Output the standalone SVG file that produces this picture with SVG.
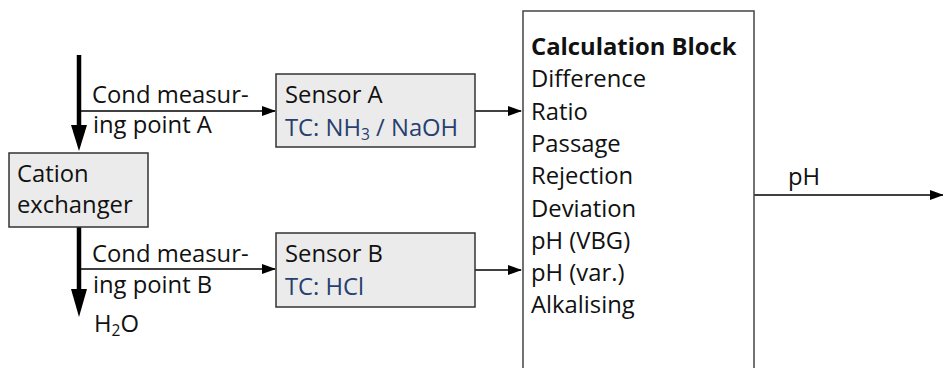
<svg xmlns="http://www.w3.org/2000/svg" width="943" height="368" viewBox="0 0 943 368">
<style>
text{font-family:"Open Sans","Noto Sans",sans-serif;font-size:23.8px;fill:#111}
.b{font-weight:bold}
.tc{fill:#27406f}
.box{fill:#ebebeb;stroke:#333;stroke-width:1.5}
.thin{stroke:#000;stroke-width:1.5;fill:none}
.thick{stroke:#000;stroke-width:4.5;fill:none}
</style>
<defs>
<marker id="ah" markerUnits="userSpaceOnUse" markerWidth="14" markerHeight="10" refX="13" refY="5" orient="auto"><path d="M0,0 L14,5 L0,10 Z" fill="#000"/></marker>
</defs>
<g id="connectors">
<line class="thick" x1="79" y1="55" x2="79" y2="128"/>
<path d="M71,125 L87,125 L79,151 Z" fill="#000"/>
<line class="thin" x1="79" y1="111" x2="275" y2="111" marker-end="url(#ah)"/>
<line class="thick" x1="79" y1="227" x2="79" y2="292"/>
<path d="M71,289 L87,289 L79,317 Z" fill="#000"/>
<line class="thin" x1="79" y1="269" x2="275" y2="269" marker-end="url(#ah)"/>
<line class="thin" x1="475" y1="111" x2="521" y2="111" marker-end="url(#ah)"/>
<line class="thin" x1="475" y1="270" x2="521" y2="270" marker-end="url(#ah)"/>
<line class="thin" x1="754" y1="195" x2="943" y2="195" marker-end="url(#ah)"/>
</g>
<g id="labels">
<text x="92" y="103">Cond measur-</text>
<text x="93" y="133">ing point A</text>
<text x="92" y="262">Cond measur-</text>
<text x="93" y="293">ing point B</text>
<text x="94" y="332">H<tspan font-size="15.5" dy="4">2</tspan><tspan dy="-4">O</tspan></text>
<text x="788" y="185">pH</text>
</g>
<g id="cation">
<rect class="box" x="9" y="153" width="139" height="74"/>
<text x="17" y="182">Cation</text>
<text x="17" y="213">exchanger</text>
</g>
<g id="sensorA">
<rect class="box" x="276" y="74" width="199" height="73"/>
<text x="285" y="103">Sensor A</text>
<text class="tc" x="285" y="136">TC: NH<tspan font-size="15.5" dy="4">3</tspan><tspan dy="-4"> / NaOH</tspan></text>
</g>
<g id="sensorB">
<rect class="box" x="276" y="233" width="199" height="74"/>
<text x="285" y="262">Sensor B</text>
<text class="tc" x="285" y="295">TC: HCl</text>
</g>
<g id="calc">
<rect x="523" y="11" width="231" height="370" fill="#fff" stroke="#444" stroke-width="1.5"/>
<text class="b" x="531" y="55">Calculation Block</text>
<text x="531" y="87">Difference</text>
<text x="531" y="119.5">Ratio</text>
<text x="531" y="151.8">Passage</text>
<text x="531" y="184">Rejection</text>
<text x="531" y="216.5">Deviation</text>
<text x="531" y="248.7">pH (VBG)</text>
<text x="531" y="281">pH (var.)</text>
<text x="531" y="313.3">Alkalising</text>
</g>
</svg>
